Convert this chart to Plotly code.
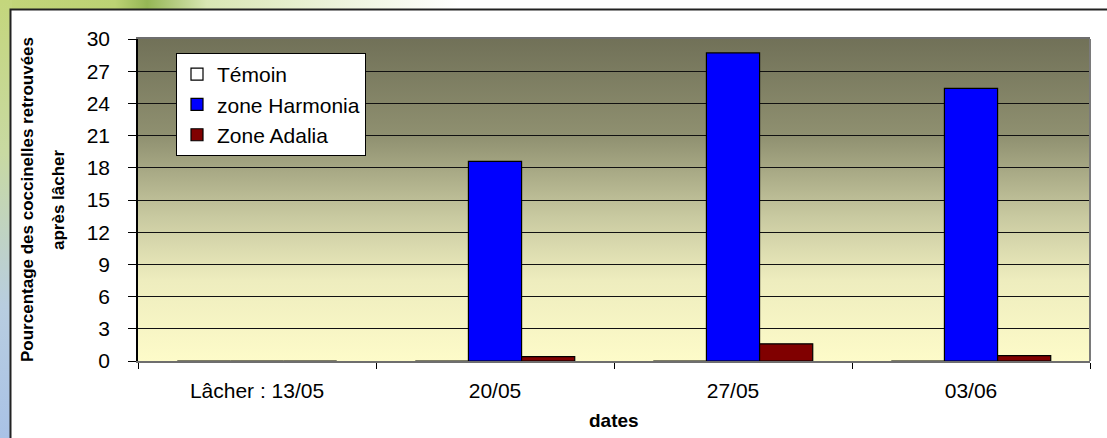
import base64
import plotly.graph_objects as go

# ---- data ----
categories = ["Lâcher : 13/05", "20/05", "27/05", "03/06"]
temoin = [0, 0, 0, 0]
harmonia = [0, 18.6, 28.7, 25.4]
adalia = [0, 0.4, 1.6, 0.5]
series_names = ["Témoin", "zone Harmonia", "Zone Adalia"]
y_ticks = list(range(0, 31, 3))

W, H = 1107, 438
L, R, T, B = 138, 17, 39, 77
PW, PH = W - L - R, H - T - B

FONT = "Liberation Sans, Arial, sans-serif"

# background decoration (page frame) as svg
bg_svg = f'''<svg xmlns="http://www.w3.org/2000/svg" width="{W}" height="{H}" viewBox="0 0 {W} {H}" preserveAspectRatio="none">
<defs>
<linearGradient id="lv" x1="0" y1="0" x2="0" y2="1">
<stop offset="0" stop-color="#c4d67c"/><stop offset="0.35" stop-color="#c8d9a2"/>
<stop offset="0.7" stop-color="#b8cde0"/><stop offset="1" stop-color="#a9c2e6"/></linearGradient>
<linearGradient id="th" x1="0" y1="0" x2="1" y2="0">
<stop offset="0" stop-color="#c3d57a"/><stop offset="0.25" stop-color="#bcd274"/>
<stop offset="0.32" stop-color="#95b655"/><stop offset="0.45" stop-color="#d9e6b4"/>
<stop offset="1" stop-color="#ffffff"/></linearGradient>
</defs>
<rect x="0" y="0" width="{W}" height="{H}" fill="#ffffff"/>
<rect x="0" y="0" width="460" height="12" fill="url(#th)"/>
<rect x="0" y="0" width="12" height="{H}" fill="url(#lv)"/>
<rect x="10.5" y="9.5" width="{W+50}" height="{H+50}" fill="#ffffff" stroke="#222222" stroke-width="2"/>
</svg>'''

plot_svg = '''<svg xmlns="http://www.w3.org/2000/svg" width="100" height="100" viewBox="0 0 100 100" preserveAspectRatio="none">
<defs><linearGradient id="g" x1="0" y1="0" x2="0" y2="1">
<stop offset="0" stop-color="#717158"/><stop offset="0.3" stop-color="#8f9070"/>
<stop offset="0.55" stop-color="#c8c9a0"/><stop offset="0.75" stop-color="#eeedbe"/>
<stop offset="1" stop-color="#fdfbc9"/></linearGradient></defs>
<rect x="0" y="0" width="100" height="100" fill="url(#g)"/></svg>'''


def uri(s):
    return "data:image/svg+xml;base64," + base64.b64encode(s.encode("utf-8")).decode("ascii")


fig = go.Figure()
colors = ["#ffffff", "#0000ff", "#800000"]
for name, vals, c in zip(series_names, [temoin, harmonia, adalia], colors):
    fig.add_trace(go.Bar(x=categories, y=vals, name=name,
                         marker=dict(color=c, line=dict(color="#000000", width=1.2))))

fig.update_layout(
    width=W, height=H,
    margin=dict(l=L, r=R, t=T, b=B, pad=0),
    paper_bgcolor="#ffffff",
    plot_bgcolor="rgba(0,0,0,0)",
    barmode="group", bargap=0.33, bargroupgap=0,
    font=dict(family=FONT, color="#000000"),
    showlegend=True,
    legend=dict(x=(176 - L) / PW, y=(361 - 53) / PH, xanchor="left", yanchor="top",
                bgcolor="#ffffff", bordercolor="#000000", borderwidth=1,
                font=dict(family=FONT, size=21, color="#000000"),
                traceorder="normal", itemclick=False),
    images=[
        dict(source=uri(bg_svg), xref="paper", yref="paper",
             x=-L / PW, y=1 + T / PH, sizex=W / PW, sizey=H / PH,
             sizing="stretch", xanchor="left", yanchor="top", layer="below"),
        dict(source=uri(plot_svg), xref="x domain", yref="y domain",
             x=0, y=1, sizex=1, sizey=1, sizing="stretch",
             xanchor="left", yanchor="top", layer="below"),
    ],
)

fig.update_xaxes(
    type="category", tickson="boundaries", ticks="outside", ticklen=6,
    tickcolor="#000000", tickwidth=1,
    showline=True, linecolor="#6e6e6e", linewidth=2, mirror=True,
    showgrid=False, tickfont=dict(family=FONT, size=21, color="#000000"),
    ticklabelstandoff=10,
)
fig.update_yaxes(
    range=[0, 30], tickvals=y_ticks, ticks="outside", ticklen=8,
    tickcolor="#000000", tickwidth=1,
    showline=True, linecolor="#000000", linewidth=1.5,
    showgrid=True, gridcolor="#111111", gridwidth=1, zeroline=False,
    tickfont=dict(family=FONT, size=21, color="#000000"),
    ticklabelstandoff=14,
)

# right border of plot area (gray)
fig.add_shape(type="line", xref="x domain", yref="y domain", x0=1, x1=1, y0=0, y1=1,
              line=dict(color="#7a7a7a", width=2))

# axis titles
fig.add_annotation(text="<b>Pourcentage des coccinelles retrouvées</b>", textangle=-90,
                   xref="paper", yref="paper", x=(27 - L) / PW, y=0.5,
                   xanchor="center", yanchor="middle", showarrow=False,
                   font=dict(family=FONT, size=17, color="#000000"))
fig.add_annotation(text="<b>après lâcher</b>", textangle=-90,
                   xref="paper", yref="paper", x=(58 - L) / PW, y=0.5,
                   xanchor="center", yanchor="middle", showarrow=False,
                   font=dict(family=FONT, size=17, color="#000000"))
fig.add_annotation(text="<b>dates</b>", xref="paper", yref="paper",
                   x=0.5, y=(361 - 421) / PH, xanchor="center", yanchor="middle",
                   showarrow=False, font=dict(family=FONT, size=19, color="#000000"))

fig.write_html("out.html",
               config={"displayModeBar": False},
               post_script="document.body.style.margin='0';document.body.style.padding='0';"
                           "document.documentElement.style.overflow='hidden';")
